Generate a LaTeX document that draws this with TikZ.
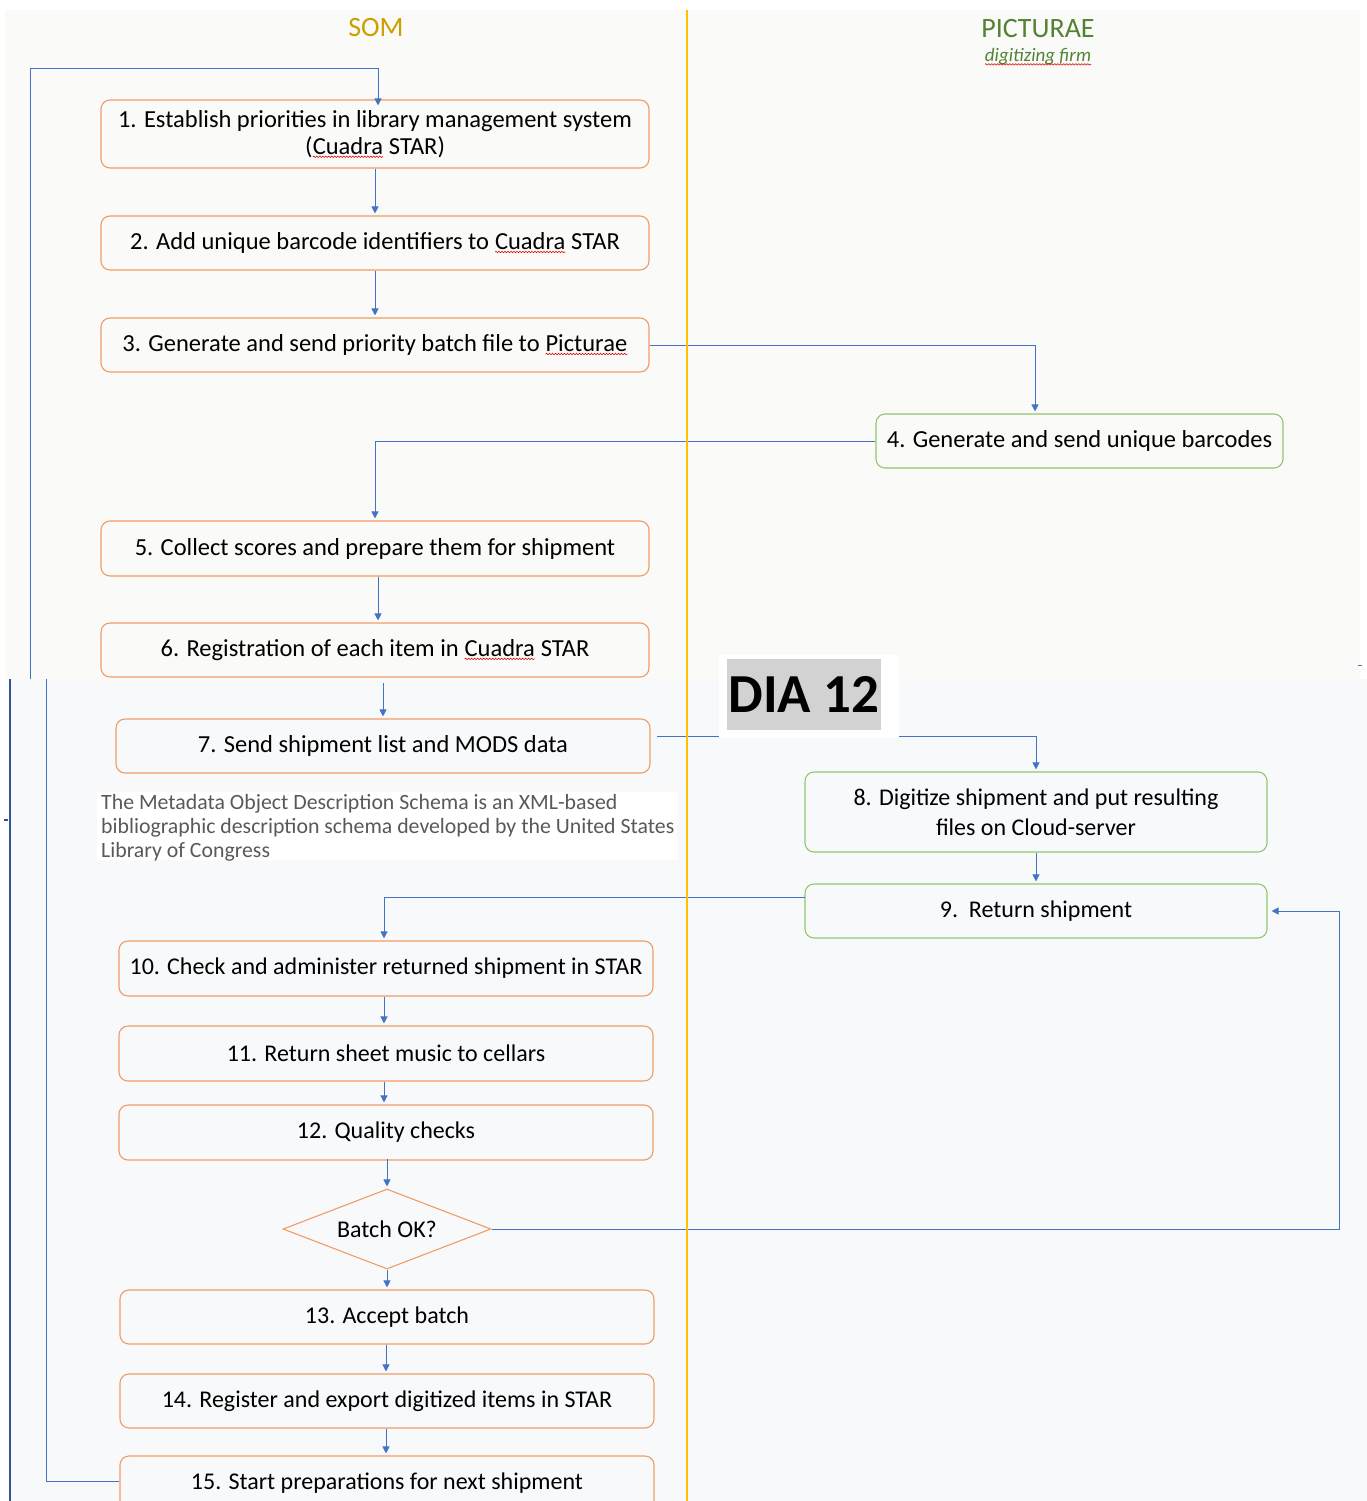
\documentclass[tikz,border=0pt]{standalone}
\usepackage{fontspec}
\setmainfont{Carlito}
\usetikzlibrary{arrows.meta,shapes.geometric,decorations.pathmorphing}
\definecolor{obord}{RGB}{241,156,102}
\definecolor{gbord}{RGB}{146,199,110}
\definecolor{connc}{RGB}{68,114,196}
\definecolor{topbg}{RGB}{250,250,248}
\definecolor{botbg}{RGB}{248,249,251}
\definecolor{laneline}{RGB}{255,192,0}
\definecolor{somc}{RGB}{204,160,0}
\definecolor{picc}{RGB}{84,130,53}
\definecolor{modsc}{RGB}{89,89,89}
\definecolor{darkb}{RGB}{47,85,151}
\definecolor{diagray}{RGB}{210,210,210}
\newcommand\spellwave[1]{\tikz[baseline=(w.base),sharp corners]{\node[inner sep=0pt,outer sep=0pt,draw=none,minimum width=0pt,minimum height=0pt](w){#1};\draw[sharp corners,red!85!black,line width=0.6pt,decorate,decoration={snake,amplitude=0.7pt,segment length=3pt}] ([yshift=-2.5pt]w.base west) -- ([yshift=-2.5pt]w.base east);}}
\tikzset{
  boxbase/.style={line width=1.1pt, rounded corners=9pt, inner sep=0pt, align=center,
    font=\fontsize{24.5}{27}\selectfont},
  obox/.style={boxbase, draw=obord, minimum width=548, minimum height=54},
  wbox/.style={boxbase, draw=obord, minimum width=534, minimum height=55, font=\fontsize{24}{27}\selectfont},
  gbox/.style={boxbase, draw=gbord},
  conn/.style={draw=connc, line width=1pt},
  arr/.style={conn, -{Triangle[width=7pt,length=7pt]}, shorten >=2pt},
}
\begin{document}
\begin{tikzpicture}[x=1pt,y=-1pt]
\useasboundingbox (0,0) rectangle (1367,1501);
\fill[white] (0,0) rectangle (1367,1501);
% backgrounds of the two pasted parts
\fill[topbg] (5,10) rectangle (1360,679);
\fill[botbg] (10,679) rectangle (1367,1501);
\draw[darkb, line width=2pt] (10,679) -- (10,1501);
\draw[darkb, line width=1.5pt] (4,820) -- (8,820);
\draw[connc, line width=1pt] (1358,665) -- (1362,665);

% headers
\node[text=somc, font=\fontsize{28}{32}\selectfont] (som) at (376,28) {SOM};
\node[text=picc, font=\fontsize{28}{32}\selectfont] (pic) at (1038,29) {PICTURAE};
\node[text=picc, font=\itshape\fontsize{19}{22}\selectfont] (firm) at (1038,57) {\spellwave{digitizing firm}};

% nodes
\node[obox, minimum height=68] (n1) at (375,134) {1. Establish priorities in library management system\\(\spellwave{Cuadra} STAR)};
\node[obox] (n2) at (375,243) {2. Add unique barcode identifiers to \spellwave{Cuadra} STAR};
\node[obox] (n3) at (375,345) {3. Generate and send priority batch file to \spellwave{Picturae}};
\node[gbox, minimum width=407, minimum height=54] (n4) at (1079.5,441) {4. Generate and send unique barcodes};
\node[obox, minimum height=55] (n5) at (375,548.5) {5. Collect scores and prepare them for shipment};
\node[obox] (n6) at (375,650) {6. Registration of each item in \spellwave{Cuadra} STAR};
\node[obox, minimum width=534] (n7) at (383,746) {7. Send shipment list and MODS data};
\node[gbox, minimum width=462, minimum height=80, font=\fontsize{24}{30}\selectfont] (n8) at (1036,812) {8. Digitize shipment and put resulting\\files on Cloud-server};
\node[gbox, minimum width=462, minimum height=54, font=\fontsize{24}{27}\selectfont] (n9) at (1036,911) {9.\ \ Return shipment};
\node[wbox] (n10) at (386,968.5) {10. Check and administer returned shipment in STAR};
\node[wbox] (n11) at (386,1053.5) {11. Return sheet music to cellars};
\node[wbox] (n12) at (386,1132.5) {12. Quality checks};
\node[diamond, draw=obord, line width=1.1pt, aspect=2.6, minimum width=208, minimum height=80, inner sep=0pt, font=\fontsize{24}{27}\selectfont] (dia) at (387,1229) {Batch OK?};
\node[wbox, minimum height=54] (n13) at (387,1317) {13. Accept batch};
\node[wbox, minimum height=54] (n14) at (387,1401) {14. Register and export digitized items in STAR};
\node[wbox, minimum height=54] (n15) at (387,1483) {15. Start preparations for next shipment};

% free connector ends
\coordinate (lt) at (30,679);
\coordinate (ltop) at (378,69);
\coordinate (lb) at (46,679);
\coordinate (c4) at (1035,345);
\coordinate (c6) at (383,683);
\coordinate (c7) at (657,736);
\coordinate (c9) at (805,897);
\coordinate (c10) at (384,897);
\coordinate (cr) at (1339,1229);

% connectors
\draw[arr] (lt) |- (ltop) -- ([yshift=-8pt]n1.north -| ltop);
\draw[conn] (n15.west |- 0,1481) -| (lb);
\draw[arr] (n1.south) -- (n2.north);
\draw[arr] (n2.south) -- (n3.north);
\draw[arr] (n3.east) -- (c4) -- (c4 |- n4.north);
\draw[arr] (n4.west) -| (n5.north);
\draw[arr] ([xshift=3pt]n5.south) -- ([xshift=3pt]n6.north);
\draw[arr] (c6) -- (c6 |- n7.north);
\draw[arr] (c7) -| (n8.north);
\draw[arr] (n8.south) -- (n9.north);
\draw[arr] (c9) -- (c10) -- (c10 |- n10.north);
\draw[arr] ([xshift=-2pt]n10.south) -- ([xshift=-2pt]n11.north);
\draw[arr] ([xshift=-2pt]n11.south) -- ([xshift=-2pt]n12.north);
\draw[arr] ([yshift=2pt]n12.south -| dia.north) -- (dia.north);
\draw[arr] (dia.south) -- (n13.north);
\draw[arr] ([xshift=-1pt]n13.south) -- ([xshift=-1pt]n14.north);
\draw[arr] ([xshift=-1pt]n14.south) -- ([xshift=-1pt]n15.north);
\draw[arr, shorten >=4pt] (dia.east) -- (cr) |- (n9.east);

% swimlane separator
\draw[laneline, line width=2.5pt] (687,10) -- (687,1501);

% DIA 12 label
\fill[white] (719,655) rectangle (899,738);
\node[fill=diagray, minimum width=154, minimum height=71, inner sep=0pt, font=\bfseries\fontsize{55}{58}\selectfont] (dia12) at (804,694.5) {DIA 12};

% MODS note
\fill[white] (97,792) rectangle (677,860);
\node[anchor=north west, inner sep=0pt, align=left, text=modsc, font=\fontsize{21.8}{24}\selectfont] (mods) at (101,794) {The Metadata Object Description Schema is an XML-based\\bibliographic description schema developed by the United States\\Library of Congress};
\end{tikzpicture}
\end{document}
